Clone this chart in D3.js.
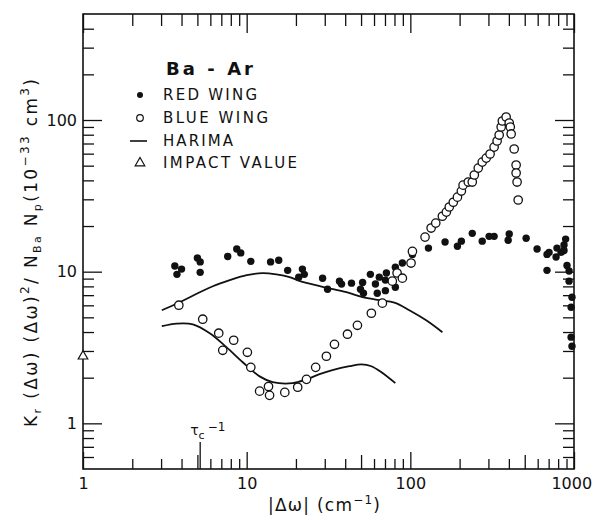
<!DOCTYPE html>
<html>
<head>
<meta charset="utf-8">
<script src="https://cdn.jsdelivr.net/npm/d3@7"></script>
<style>
  body { margin: 0; background: #fff; }
  text { font-family: "DejaVu Sans", "Liberation Sans", sans-serif; fill: #111; }
</style>
</head>
<body>
<div id="canvas"></div>
<script>
// red wing (filled circles)
const redX = [3.64, 4.0, 3.75, 5.0, 5.2, 5.2, 7.66, 8.7, 9.2, 10.6, 14.0, 15.7, 17.8, 21.9, 22.5, 20.8,
  29.1, 31.2, 36.9, 38.0, 43.7, 49.6, 51.1, 51.7, 57.0, 61.2, 62.8, 64.6, 71.4, 70.4, 70.4, 81, 81,
  89.4, 103, 129, 163, 194, 205, 239, 275, 303, 325, 402, 396, 510, 595, 684, 704, 777, 787, 833,
  869, 889, 869, 684, 906, 933, 933, 972, 960, 960, 972];
const redY = [10.9, 10.4, 9.6, 12.3, 11.6, 9.9, 12.6, 14.1, 13.3, 11.7, 11.6, 11.9, 10.2, 10.4, 9.6, 9.2,
  9.06, 7.66, 8.66, 8.28, 8.4, 7.66, 8.5, 7.2, 9.6, 8.3, 7.2, 9.2, 9.8, 8.8, 7.5, 7.9, 10.7,
  11.4, 13.0, 14.3, 15.7, 14.7, 15.9, 17.9, 15.9, 17.1, 17.1, 17.7, 16.1, 16.6, 14.1, 13.0, 13.4, 12.5, 14.3, 13.4,
  15.0, 16.4, 13.8, 10.2, 11.0, 10.1, 8.66, 6.79, 5.83, 3.70, 3.22];

// blue wing (open circles)
const blueX = [3.85, 5.39, 6.75, 8.33, 7.14, 10.1, 10.6, 12.0, 13.6, 13.8, 17.1, 20.5, 23.2, 26.4, 30.7,
  34.4, 41.3, 47.5, 57.8, 67.5, 77.6, 83, 89.4, 101, 103, 123, 134, 143, 157, 166, 173, 183, 194,
  205, 210, 226, 239, 246, 260, 275, 291, 307, 325, 339, 349, 359, 365, 385, 402, 408, 413, 431,
  443, 443, 449, 456];
const blueY = [6.01, 4.86, 3.93, 3.53, 3.03, 2.94, 2.34, 1.63, 1.75, 1.53, 1.60, 1.73, 1.95, 2.34, 2.77,
  3.32, 3.87, 4.43, 5.32, 6.2, 8.66, 9.8, 9.06, 11.4, 13.6, 16.9, 19.4, 20.9, 23.2, 24.7, 26.7, 28.7, 31.0,
  34.0, 37.2, 39.0, 39.0, 43.4, 48.2, 52.8, 56.1, 59.7, 66.3, 72.7, 79.6, 89.9, 98.5, 104.7, 95.5, 89.9, 80.9, 64.4,
  50.5, 44.7, 39.0, 29.7];

// Harima theory curves
const harimaUpperX = [3.03, 3.90, 5.17, 6.21, 7.88, 10.0, 12.5, 15.2, 18.3, 21.0, 29.1, 40.7, 51.1, 64.7, 79.9, 98.6, 125, 157];
const harimaUpperY = [5.57, 6.29, 7.32, 8.02, 8.79, 9.48, 9.78, 9.6, 9.22, 8.7, 7.95, 7.32, 6.79, 6.49, 6.25, 5.57, 4.78, 3.99];
const harimaLowerX = [3.03, 3.74, 4.69, 5.95, 7.55, 9.46, 12.0, 14.4, 19.1, 23.2, 27.9, 33.4, 42.5, 50.3, 57.8, 66.6, 81];
const harimaLowerY = [4.37, 4.55, 4.5, 3.93, 3.17, 2.53, 2.04, 1.87, 1.84, 1.95, 2.11, 2.24, 2.38, 2.45, 2.38, 2.17, 1.84];

// impact value
const impactX = [1];
const impactY = [2.77];

const tauC = 5.2;

// ticks
const xMajor = [1, 10, 100, 1000];
const xMid = [5, 50, 500];
const xMinor = [2, 3, 4, 6, 7, 8, 9, 20, 30, 40, 60, 70, 80, 90, 200, 300, 400, 600, 700, 800, 900];
const yMajor = [1, 10, 100];
const yMinor = [0.6, 0.7, 0.8, 0.9, 2, 3, 4, 5, 6, 7, 8, 9, 20, 30, 40, 50, 60, 70, 80, 90, 200, 300, 400];

const width = 595;
const height = 520;

const svg = d3.select("#canvas").append("svg")
  .attr("width", width)
  .attr("height", height);

const x = d3.scaleLog().domain([1, 1000]).range([83, 574]);
const y = d3.scaleLog().domain([0.5, 500]).range([469, 14]);

const x0 = x.range()[0], x1 = x.range()[1];
const y0 = y.range()[0], y1 = y.range()[1];

function tickGroup(axis, tr) {
  const g = svg.append("g").attr("transform", tr).call(axis);
  g.select(".domain").remove();
  g.selectAll("line").attr("stroke", "#111").attr("stroke-width", 1.3);
  return g;
}

// bottom
tickGroup(d3.axisBottom(x).tickValues(xMinor).tickSize(-10).tickFormat(""), `translate(0,${y0})`);
tickGroup(d3.axisBottom(x).tickValues(xMid).tickSize(-14).tickFormat(""), `translate(0,${y0})`);
tickGroup(d3.axisBottom(x).tickValues(xMajor).tickSize(-17).tickPadding(9).tickFormat(d3.format("d")), `translate(0,${y0})`)
  .selectAll("text").attr("font-size", 16).attr("fill", "#111")
  .attr("text-anchor", d => d === 1000 ? "end" : "middle")
  .attr("dx", d => d === 1000 ? "1.1em" : 0);
// top
tickGroup(d3.axisTop(x).tickValues(xMinor.concat(xMid)).tickSize(-12).tickFormat(""), `translate(0,${y1})`);
tickGroup(d3.axisTop(x).tickValues(xMajor).tickSize(-19).tickFormat(""), `translate(0,${y1})`);
// left
tickGroup(d3.axisLeft(y).tickValues(yMinor).tickSize(-11).tickFormat(""), `translate(${x0},0)`);
tickGroup(d3.axisLeft(y).tickValues(yMajor).tickSize(-19).tickPadding(6).tickFormat(d3.format("d")), `translate(${x0},0)`)
  .selectAll("text").attr("font-size", 16).attr("fill", "#111");
// right
tickGroup(d3.axisRight(y).tickValues(yMinor).tickSize(-11).tickFormat(""), `translate(${x1},0)`);
tickGroup(d3.axisRight(y).tickValues(yMajor).tickSize(-19).tickFormat(""), `translate(${x1},0)`);

// frame
svg.append("rect")
  .attr("x", x0).attr("y", y1)
  .attr("width", x1 - x0).attr("height", y0 - y1)
  .attr("fill", "none").attr("stroke", "#111").attr("stroke-width", 1.6);

// tau_c marker
svg.append("line")
  .attr("x1", x(tauC)).attr("x2", x(tauC))
  .attr("y1", y0).attr("y2", y0 - 27)
  .attr("stroke", "#111").attr("stroke-width", 1.3);
const tau = svg.append("text").attr("x", x(tauC) - 10).attr("y", 435).attr("font-size", 14);
tau.append("tspan").text("τ");
tau.append("tspan").attr("dy", 4).attr("font-size", 11).text("c");
tau.append("tspan").attr("dy", -8).attr("dx", 3).attr("font-size", 12).text("−1");

// Harima lines
const line = d3.line()
  .x(d => x(d[0]))
  .y(d => y(d[1]))
  .curve(d3.curveCatmullRom.alpha(0.5));

[[harimaUpperX, harimaUpperY], [harimaLowerX, harimaLowerY]].forEach(([hx, hy]) => {
  svg.append("path")
    .datum(hx.map((v, i) => [v, hy[i]]))
    .attr("d", line)
    .attr("fill", "none")
    .attr("stroke", "#111")
    .attr("stroke-width", 1.8);
});

// red wing
svg.append("g").selectAll("circle")
  .data(redX.map((v, i) => [v, redY[i]]))
  .enter().append("circle")
  .attr("cx", d => x(d[0]))
  .attr("cy", d => y(d[1]))
  .attr("r", 3.7)
  .attr("fill", "#111");

// blue wing
svg.append("g").selectAll("circle")
  .data(blueX.map((v, i) => [v, blueY[i]]))
  .enter().append("circle")
  .attr("cx", d => x(d[0]))
  .attr("cy", d => y(d[1]))
  .attr("r", 4.2)
  .attr("fill", "#fff")
  .attr("stroke", "#111")
  .attr("stroke-width", 1.3);

// impact value
const tri = d3.symbol().type(d3.symbolTriangle).size(40);
svg.append("g").selectAll("path")
  .data(impactX.map((v, i) => [v, impactY[i]]))
  .enter().append("path")
  .attr("d", tri)
  .attr("transform", d => `translate(${x(d[0])},${y(d[1])})`)
  .attr("fill", "#fff")
  .attr("stroke", "#111")
  .attr("stroke-width", 1.2);

// legend
svg.append("text")
  .attr("x", 166).attr("y", 75)
  .attr("font-size", 18).attr("font-weight", "bold")
  .attr("textLength", 87).attr("lengthAdjust", "spacing")
  .text("Ba - Ar");

const legend = [
  { label: "RED WING", y: 100, w: 94 },
  { label: "BLUE WING", y: 123, w: 105 },
  { label: "HARIMA", y: 146, w: 70 },
  { label: "IMPACT VALUE", y: 168, w: 134 }
];
legend.forEach(d => {
  svg.append("text")
    .attr("x", 163).attr("y", d.y)
    .attr("font-size", 15)
    .attr("textLength", d.w).attr("lengthAdjust", "spacing")
    .text(d.label);
});
svg.append("circle").attr("cx", 140).attr("cy", 95).attr("r", 3).attr("fill", "#111");
svg.append("circle").attr("cx", 140).attr("cy", 118).attr("r", 3.3)
  .attr("fill", "none").attr("stroke", "#111").attr("stroke-width", 1.2);
svg.append("line").attr("x1", 130).attr("x2", 147).attr("y1", 141).attr("y2", 141)
  .attr("stroke", "#111").attr("stroke-width", 1.6);
svg.append("path").attr("d", tri).attr("transform", "translate(140,163)")
  .attr("fill", "none").attr("stroke", "#111").attr("stroke-width", 1.2);

// x label
const xl = svg.append("text")
  .attr("x", 268).attr("y", 511)
  .attr("font-size", 17)
  .attr("textLength", 112).attr("lengthAdjust", "spacing");
xl.append("tspan").text("|Δω| (cm");
xl.append("tspan").attr("dy", -7).attr("font-size", 12).text("−1");
xl.append("tspan").attr("dy", 7).text(")");

// y label
const yl = svg.append("text")
  .attr("transform", "translate(37,253) rotate(-90)")
  .attr("text-anchor", "middle")
  .attr("font-size", 17)
  .attr("textLength", 348).attr("lengthAdjust", "spacing");
yl.append("tspan").text("K");
yl.append("tspan").attr("dy", 4).attr("font-size", 11).text("r");
yl.append("tspan").attr("dy", -4).text(" (Δω) (Δω)");
yl.append("tspan").attr("dy", -8).attr("font-size", 12).text("2");
yl.append("tspan").attr("dy", 8).text("/ N");
yl.append("tspan").attr("dy", 4).attr("font-size", 11).text("Ba");
yl.append("tspan").attr("dy", -4).text("  N");
yl.append("tspan").attr("dy", 4).attr("font-size", 11).text("p");
yl.append("tspan").attr("dy", -4).text("(10");
yl.append("tspan").attr("dy", -8).attr("font-size", 12).text("−33");
yl.append("tspan").attr("dy", 8).text(" cm");
yl.append("tspan").attr("dy", -8).attr("font-size", 12).text("3");
yl.append("tspan").attr("dy", 8).text(")");
</script>
</body>
</html>
